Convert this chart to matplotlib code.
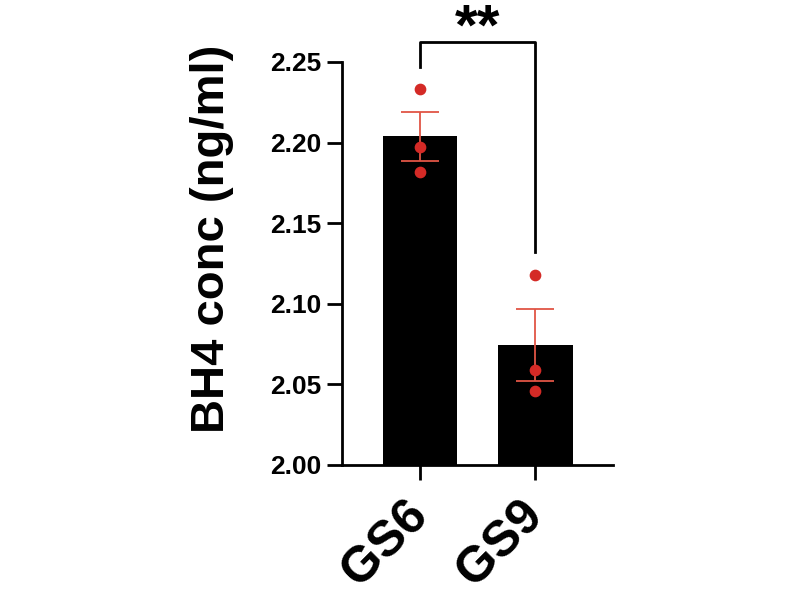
import numpy as np
import matplotlib.pyplot as plt

plt.rcParams['font.family'] = ['Liberation Sans', 'DejaVu Sans']

groups = ['GS6', 'GS9']
gs6_points = [2.233, 2.197, 2.182]
gs9_points = [2.118, 2.059, 2.046]
means = [np.mean(gs6_points), np.mean(gs9_points)]
sems = [np.std(gs6_points, ddof=1) / np.sqrt(3), np.std(gs9_points, ddof=1) / np.sqrt(3)]
yticks = [2.00, 2.05, 2.10, 2.15, 2.20, 2.25]
sig_label = '**'

fig = plt.figure(figsize=(8, 6), dpi=100)
ax = fig.add_axes([0.4275, 0.225, 0.339, 0.6717])

x = np.array([0, 1])
ax.bar(x, means, width=0.65, color='black', zorder=1)
ax.errorbar(x, means, yerr=sems, fmt='none', ecolor='#e05545', elinewidth=1.3,
            capsize=14, capthick=1.3, zorder=3)
for xi, pts in zip(x, [gs6_points, gs9_points]):
    ax.scatter([xi] * len(pts), pts, s=55, color='#d42a26', zorder=4)

ax.set_xlim(-0.678, 1.678)
ax.set_ylim(2.00, 2.25)
ax.set_yticks(yticks)
ax.set_yticklabels([f'{v:.2f}' for v in yticks], fontsize=19, fontweight='bold')
ax.set_xticks(x)
ax.set_xticklabels(groups, fontsize=36, fontweight='bold', rotation=45,
                   ha='right', va='center', rotation_mode='anchor')
ax.tick_params(axis='both', width=2, length=11, direction='out')
ax.tick_params(axis='x', pad=20)
ax.tick_params(axis='y', pad=4)
for s in ['top', 'right']:
    ax.spines[s].set_visible(False)
for s in ['left', 'bottom']:
    ax.spines[s].set_linewidth(2)

ax.set_ylabel('BH4 conc (ng/ml)', fontsize=34, fontweight='bold')
ax.yaxis.set_label_coords(-0.40, 0.56)

# significance bracket
ytop = 2.2624
ax.plot([0, 0, 1, 1], [2.247, ytop, ytop, 2.132], color='black', lw=2,
        clip_on=False)
ax.text(0.5, 2.2605, sig_label, ha='center', va='baseline', fontsize=42,
        fontweight='bold')

plt.savefig('out.png', dpi=100)
